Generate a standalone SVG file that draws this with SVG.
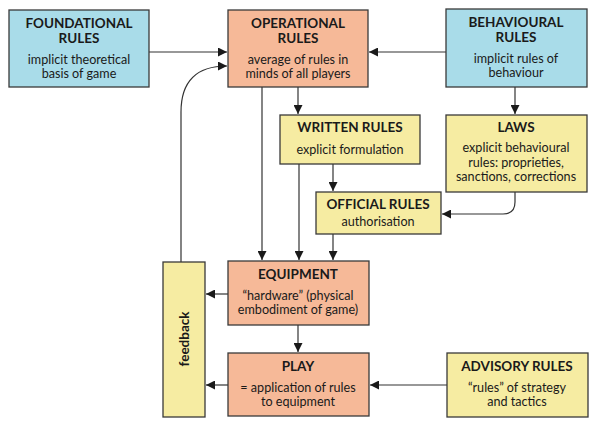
<svg xmlns="http://www.w3.org/2000/svg" width="600" height="430" viewBox="0 0 600 430">
<style>
.box{stroke:#3a3a3a;stroke-width:1.3}
.blue{fill:#a9dce9}
.orange{fill:#f6b998}
.yellow{fill:#f6eca2}
text{font-family:Lato,"Liberation Sans",sans-serif;fill:#1a1a1a;text-anchor:middle}
.t{font-weight:bold;font-size:13.5px}
.b{font-size:12.6px}
.c{fill:none;stroke:#333;stroke-width:1.2}
</style>
<defs>
<marker id="ah" viewBox="0 0 10 10" refX="10" refY="5" markerWidth="9" markerHeight="9" markerUnits="userSpaceOnUse" orient="auto">
<path d="M0,0 L10,5 L0,10 z" fill="#1a1a1a"/>
</marker>
</defs>
<g id="connectors">
<path class="c" d="M149,52 L227,52" marker-end="url(#ah)"/>
<path class="c" d="M446,52 L369,52" marker-end="url(#ah)"/>
<path class="c" d="M181,262 L181,112 Q181,66 227,66" marker-end="url(#ah)"/>
<path class="c" d="M298,87 L298,114" marker-end="url(#ah)"/>
<path class="c" d="M262,87 L262,260" marker-end="url(#ah)"/>
<path class="c" d="M299,164 L299,260" marker-end="url(#ah)"/>
<path class="c" d="M333,164 L333,191" marker-end="url(#ah)"/>
<path class="c" d="M333,234 L333,260" marker-end="url(#ah)"/>
<path class="c" d="M515,87 L515,114" marker-end="url(#ah)"/>
<path class="c" d="M515,192 L515,202 Q515,214 503,214 L442,214" marker-end="url(#ah)"/>
<path class="c" d="M228,294 L206,294" marker-end="url(#ah)"/>
<path class="c" d="M298,325 L298,352" marker-end="url(#ah)"/>
<path class="c" d="M228,385 L206,385" marker-end="url(#ah)"/>
<path class="c" d="M447,385 L370,385" marker-end="url(#ah)"/>
</g>
<g id="foundational">
<rect class="box blue" x="9" y="10" width="140" height="77"/>
<text class="t" x="79" y="28">FOUNDATIONAL</text>
<text class="t" x="79" y="43">RULES</text>
<text class="b" x="79" y="63.5">implicit theoretical</text>
<text class="b" x="79" y="78">basis of game</text>
</g>
<g id="operational">
<rect class="box orange" x="228" y="10" width="140" height="77"/>
<text class="t" x="298" y="28">OPERATIONAL</text>
<text class="t" x="298" y="43">RULES</text>
<text class="b" x="298" y="63.5">average of rules in</text>
<text class="b" x="298" y="78">minds of all players</text>
</g>
<g id="behavioural">
<rect class="box blue" x="446" y="9" width="141" height="78"/>
<text class="t" x="516" y="27">BEHAVIOURAL</text>
<text class="t" x="516" y="42">RULES</text>
<text class="b" x="516" y="62.5">implicit rules of</text>
<text class="b" x="516" y="77">behaviour</text>
</g>
<g id="written">
<rect class="box yellow" x="280" y="115" width="140" height="49"/>
<text class="t" x="350" y="132">WRITTEN RULES</text>
<text class="b" x="350" y="154">explicit formulation</text>
</g>
<g id="laws">
<rect class="box yellow" x="446" y="115" width="141" height="77"/>
<text class="t" x="516" y="132">LAWS</text>
<text class="b" x="516" y="152">explicit behavioural</text>
<text class="b" x="516" y="166.5">rules: proprieties,</text>
<text class="b" x="516" y="181">sanctions, corrections</text>
</g>
<g id="official">
<rect class="box yellow" x="316" y="192" width="125" height="42"/>
<text class="t" x="378" y="209">OFFICIAL RULES</text>
<text class="b" x="378" y="226">authorisation</text>
</g>
<g id="equipment">
<rect class="box orange" x="228" y="261" width="141" height="64"/>
<text class="t" x="298" y="279">EQUIPMENT</text>
<text class="b" x="298" y="299.5">“hardware” (physical</text>
<text class="b" x="298" y="314">embodiment of game)</text>
</g>
<g id="play">
<rect class="box orange" x="228" y="353" width="141" height="63"/>
<text class="t" x="298" y="371">PLAY</text>
<text class="b" x="298" y="391.5">= application of rules</text>
<text class="b" x="298" y="406">to equipment</text>
</g>
<g id="feedback">
<rect class="box yellow" x="163" y="262" width="42" height="155"/>
<text class="t" transform="translate(189,339) rotate(-90)" x="0" y="0">feedback</text>
</g>
<g id="advisory">
<rect class="box yellow" x="447" y="353" width="141" height="64"/>
<text class="t" x="517" y="371">ADVISORY RULES</text>
<text class="b" x="517" y="391.5">“rules” of strategy</text>
<text class="b" x="517" y="406">and tactics</text>
</g>
</svg>
